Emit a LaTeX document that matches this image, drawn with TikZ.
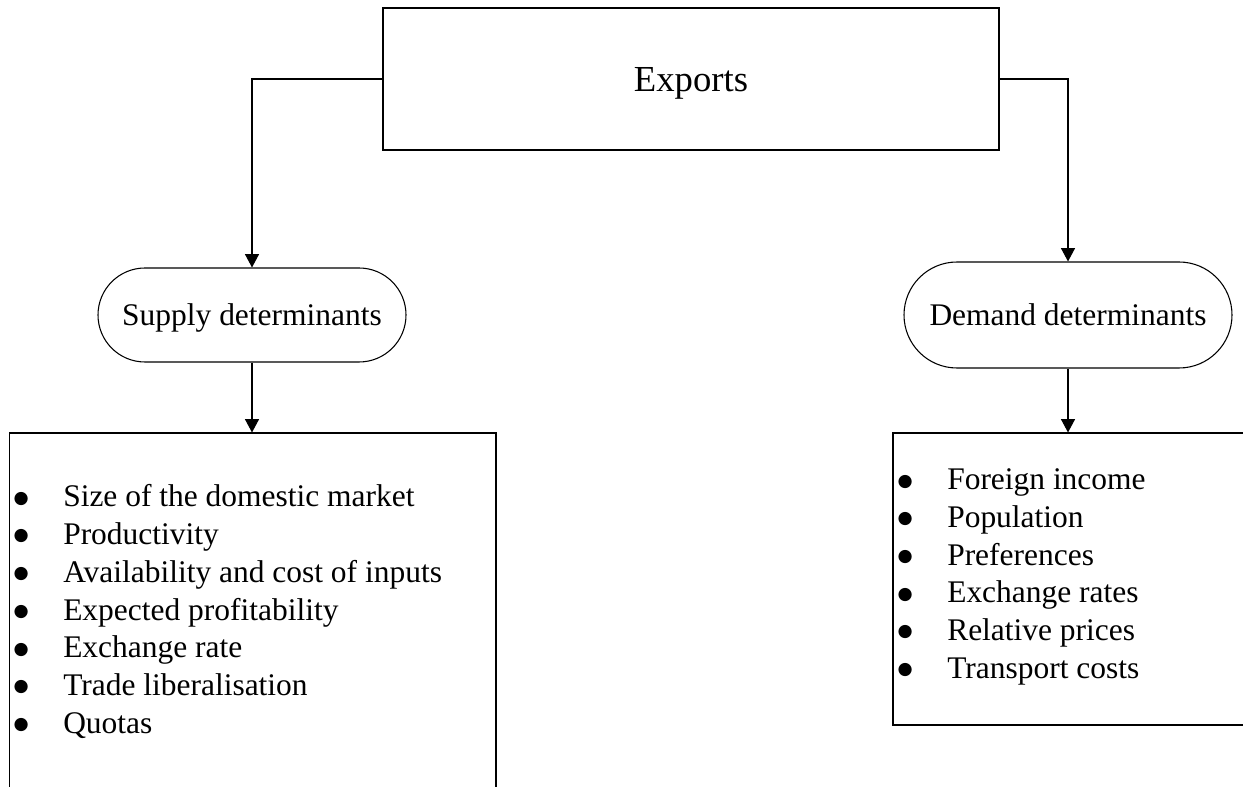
\documentclass[tikz,border=0pt]{standalone}
\usepackage{fontspec}
\setmainfont{Liberation Serif}
\newfontfamily\bulfont{DejaVu Sans}
\usetikzlibrary{arrows.meta,shapes.misc,fit}
\newcommand\bulbox{\makebox[63pt]{\raisebox{2.8pt}{\bulfont\fontsize{13}{15}\selectfont ●}}}
\tikzset{
  lw/.style={line width=0.8pt},
  arr/.style={lw, -{Triangle[width=10.5pt,length=10pt]}},
  boxnode/.style={draw, lw, inner sep=0pt},
  ovalnode/.style={draw, lw, rounded rectangle, inner sep=0pt,
    font=\fontsize{23.6}{28}\selectfont, text height=15.6pt, text depth=0pt},
  topnode/.style={boxnode, font=\fontsize{27.5}{32}\selectfont, text height=18.2pt, text depth=0pt},
  itemnode/.style={anchor=base west, inner sep=0pt, text height=16pt, text depth=5pt,
    font=\fontsize{23.6}{28}\selectfont},
}
\begin{document}
\begin{tikzpicture}[x=0.75pt,y=-0.75pt]
\path[use as bounding box] (0,0) rectangle (1243,787);
\clip (0,0) rectangle (1243,787);

% top box
\node[topnode, minimum width=462pt, minimum height=106.5pt] (exports) at (691,79) {Exports};

% ovals
\node[ovalnode, minimum width=231pt, minimum height=70.5pt] (supply) at (252,315) {Supply determinants};
\node[ovalnode, minimum width=246pt, minimum height=79.5pt] (demand) at (1068,315) {Demand determinants};

% list boxes
\coordinate (s1) at (9.5,433);
\coordinate (s2) at (496,800);
\node[boxnode, fit=(s1)(s2)] (supbox) {};
\coordinate (d1) at (893,433);
\coordinate (d2) at (1260,725);
\node[boxnode, fit=(d1)(d2)] (dembox) {};

% connectors
\draw[arr] (exports.west) -| (supply.north);
\draw[arr] (exports.east) -| (demand.north);
\draw[arr] (supply.south) -- (supply.south |- supbox.north);
\draw[arr] (demand.south) -- (demand.south |- dembox.north);

% supply items
\foreach \t [count=\i] in {Size of the domestic market, Productivity, Availability and cost of inputs, Expected profitability, Exchange rate, Trade liberalisation, Quotas}
  \node[itemnode] (sup\i) at (-21,{507+(\i-1)*37.7}) {\bulbox\t};

% demand items
\foreach \t [count=\i] in {Foreign income, Population, Preferences, Exchange rates, Relative prices, Transport costs}
  \node[itemnode] (dem\i) at (863,{490+(\i-1)*37.6}) {\bulbox\t};
\end{tikzpicture}
\end{document}
